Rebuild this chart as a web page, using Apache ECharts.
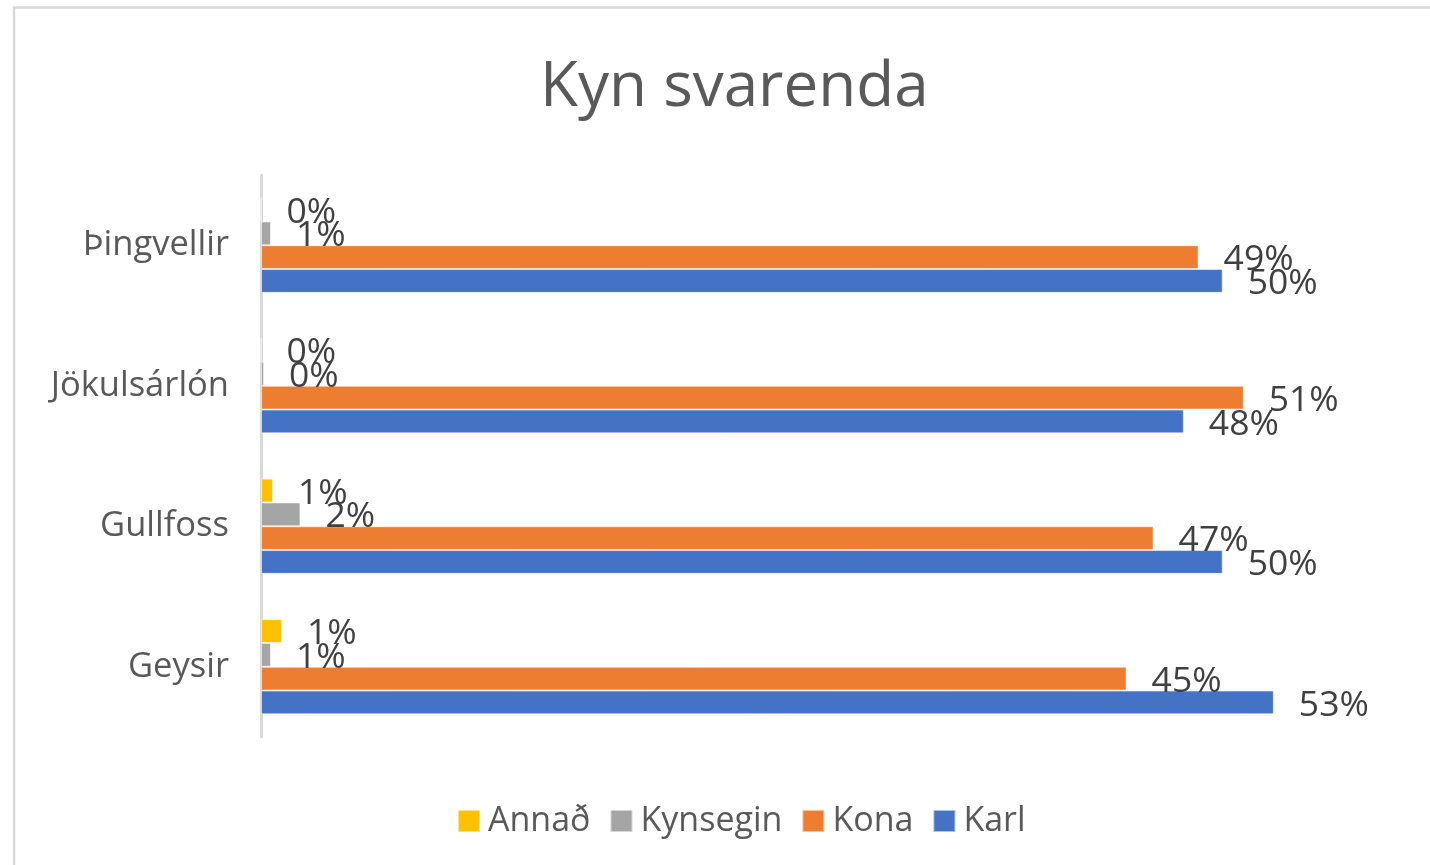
<!DOCTYPE html>
<html>
<head>
<meta charset="utf-8">
<script src="https://cdn.jsdelivr.net/npm/echarts@6/dist/echarts.min.js"></script>
<style>
html,body{margin:0;padding:0;background:#fff;}
#chart{width:1430px;height:865px;}
</style>
</head>
<body>
<div id="chart"></div>
<script>
// Categories (bottom to top as drawn)
const categories = ['Geysir', 'Gullfoss', 'Jökulsárlón', 'Þingvellir'];
// Series values (share of respondents, in %)
const annad    = [1.1, 0.63, 0.0, 0.0];
const kynsegin = [0.52, 2.06, 0.16, 0.52];
const kona     = [45.2, 46.61, 51.32, 48.96];
const karl     = [52.89, 50.22, 48.19, 50.22];
const seriesNames = ['Annað', 'Kynsegin', 'Kona', 'Karl'];
const seriesColors = ['#FFC000', '#A5A5A5', '#ED7D31', '#4472C4'];
const seriesData = [annad, kynsegin, kona, karl];

const FONT = '"Open Sans", "Noto Sans", sans-serif';

const chart = echarts.init(document.getElementById('chart'), null, {renderer: 'canvas'});

const series = seriesNames.map((name, i) => ({
  name: name,
  type: 'bar',
  data: seriesData[i],
  barWidth: 23.8,
  barGap: '0%',
  itemStyle: {
    color: seriesColors[i],
    borderColor: 'rgba(255,255,255,0.55)',
    borderWidth: 1
  },
  label: {
    show: true,
    position: 'right',
    distance: 25,
    offset: [0, 3],
    color: '#404040',
    fontFamily: FONT,
    fontSize: 35.5,
    formatter: p => Math.round(p.value) + '%'
  }
}));

chart.setOption({
  backgroundColor: '#fff',
  animation: false,
  title: {
    text: 'Kyn svarenda',
    left: 540,
    top: 57,
    padding: 0,
    textStyle: {
      color: '#595959',
      fontFamily: FONT,
      fontSize: 62,
      fontWeight: 'normal'
    }
  },
  graphic: [{
    type: 'rect',
    shape: {x: 14, y: 7.5, width: 1430, height: 900},
    style: {fill: 'none', stroke: '#d9d9d9', lineWidth: 2.5},
    silent: true,
    z: -1
  }],
  legend: {
    data: seriesNames,
    left: 457,
    top: 804,
    padding: 0,
    icon: 'rect',
    itemWidth: 22,
    itemHeight: 22,
    itemGap: 19,
    textStyle: {
      color: '#595959',
      fontFamily: FONT,
      fontSize: 34,
      padding: [0, 0, 0, 3]
    }
  },
  grid: {
    left: 261,
    top: 175,
    bottom: 128,
    right: 20,
    containLabel: false
  },
  xAxis: {
    type: 'value',
    min: 0,
    max: 60,
    show: false,
    splitLine: {show: false}
  },
  yAxis: {
    type: 'category',
    data: categories,
    axisLine: {show: true, lineStyle: {color: '#d9d9d9', width: 3}},
    axisTick: {show: false},
    axisLabel: {
      color: '#595959',
      fontFamily: FONT,
      fontSize: 34.5,
      margin: 32,
      padding: [6, 0, 0, 0]
    }
  },
  series: series
});
</script>
</body>
</html>
